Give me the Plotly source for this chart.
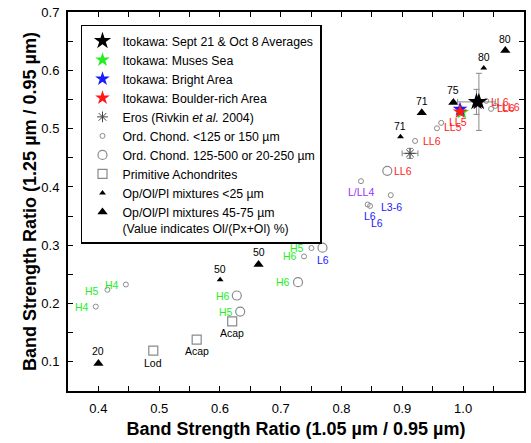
import plotly.graph_objects as go

# ---------------- data ----------------
# Itokawa averages (Sept 21 & Oct 8)
ito_x = [1.022, 1.026]
ito_y = [0.546, 0.546]
ito_ex = [0.031, 0.0]
ito_ey = [0.0215, 0.049]

muses_x, muses_y = [0.998], [0.528]
bright_x, bright_y = [0.995], [0.5334]
boulder_x, boulder_y = [0.995], [0.529]

eros_x, eros_y = [0.9127], [0.4577]
eros_ex, eros_ey = [0.013], [0.0086]

# Ordinary chondrites <125 or 150 um
oc_small_x = [1.046, 1.053, 1.038, 0.964, 0.957, 0.921, 0.832, 0.881, 0.843, 0.847, 0.7505, 0.7383, 0.4452, 0.4149, 0.3957]
oc_small_y = [0.534, 0.539, 0.5477, 0.510, 0.5007, 0.479, 0.410, 0.386, 0.370, 0.3675, 0.2952, 0.2809, 0.2327, 0.2236, 0.1948]
oc_small_lab = ["LL6", "LL6", "LL6", "LL5", "LL5", "LL6", "L/LL4", "L3-6", "L6", "L6", "H5", "H6", "H4", "H5", "H4"]

# Ordinary chondrites 125-500 or 20-250 um
oc_large_x = [0.8753, 0.7687, 0.7284, 0.6277, 0.6333]
oc_large_y = [0.4277, 0.2959, 0.2367, 0.2138, 0.1862]
oc_large_lab = ["LL6", "L6", "H6", "H6", "H5"]

# Primitive achondrites
pa_x = [0.6201, 0.5617, 0.4903]
pa_y = [0.1695, 0.138, 0.1191]
pa_lab = ["Acap", "Acap", "Lod"]

# Op/Ol/Pl mixtures <25 um
mix_small_x = [1.034, 0.897, 0.6003]
mix_small_y = [0.604, 0.4862, 0.2408]
mix_small_lab = ["80", "71", "50"]

# Op/Ol/Pl mixtures 45-75 um
mix_large_x = [1.0695, 0.984, 0.932, 0.6635, 0.400]
mix_large_y = [0.634, 0.545, 0.5275, 0.2671, 0.0972]
mix_large_lab = ["80", "75", "71", "50", "20"]

x_ticks = [0.4, 0.5, 0.6, 0.7, 0.8, 0.9, 1.0, 1.1]
y_ticks = [0.1, 0.2, 0.3, 0.4, 0.5, 0.6, 0.7]

# ---------------- styles ----------------
FONT = "Arial, Liberation Sans, Helvetica, sans-serif"
GRAY = "#8a8a8a"
RED = "#ff1a1a"
GREEN = "#22ee22"
BLUE = "#1a1aff"
PURPLE = "#9b30ff"

label_color = {"LL6": RED, "LL5": RED, "L/LL4": PURPLE, "L3-6": BLUE, "L6": BLUE,
               "H4": GREEN, "H5": GREEN, "H6": GREEN, "Acap": "black", "Lod": "black"}

# label pixel offsets (dx, dy) relative to their point (plotly yshift: + is up)
oc_small_off = [(15, 1), (16, -1), (14, -1), (17, 1), (16, 1), (17, 0), (0, -11), (1, -12),
                (2, -12), (7, -17), (-14, 0), (-14, 0), (-14, 0), (-15, -1), (-14, 0)]
oc_large_off = [(16, 0), (0, -12), (-15, 0), (-14, 0), (-14, 0)]
pa_off = [(0, -12), (0, -11), (0, -12)]
mix_small_off = [(0, 11)] * 3
mix_large_off = [(0, 12)] * 5

fig = go.Figure()

# gray open circles
fig.add_trace(go.Scatter(x=oc_small_x, y=oc_small_y, mode="markers",
                         name="Ord. Chond. <125 or 150 µm", legendrank=6,
                         marker=dict(symbol="circle-open", size=5, color=GRAY, line=dict(width=1))))
fig.add_trace(go.Scatter(x=oc_large_x, y=oc_large_y, mode="markers",
                         name="Ord. Chond. 125-500 or 20-250 µm", legendrank=7,
                         marker=dict(symbol="circle-open", size=9, color=GRAY, line=dict(width=1.2))))
fig.add_trace(go.Scatter(x=pa_x, y=pa_y, mode="markers",
                         name="Primitive Achondrites", legendrank=8,
                         marker=dict(symbol="square-open", size=9, color=GRAY, line=dict(width=1.2))))
fig.add_trace(go.Scatter(x=mix_small_x, y=mix_small_y, mode="markers",
                         name="Op/Ol/Pl mixtures <25 µm", legendrank=9,
                         marker=dict(symbol="triangle-up", size=6, color="black")))
fig.add_trace(go.Scatter(x=mix_large_x, y=mix_large_y, mode="markers",
                         name="Op/Ol/Pl mixtures 45-75 µm<br>(Value indicates Ol/(Px+Ol) %)", legendrank=10,
                         marker=dict(symbol="triangle-up", size=9, color="black")))
fig.add_trace(go.Scatter(x=eros_x, y=eros_y, mode="markers",
                         name="Eros (Rivkin <i>et al.</i> 2004)", legendrank=5,
                         error_x=dict(type="data", array=eros_ex, color=GRAY, thickness=1, width=3),
                         error_y=dict(type="data", array=eros_ey, color=GRAY, thickness=1, width=3),
                         marker=dict(symbol="asterisk-open", size=9, color="#444", line=dict(width=1, color="#444"))))
fig.add_trace(go.Scatter(x=muses_x, y=muses_y, mode="markers", name="Itokawa: Muses Sea", legendrank=2,
                         marker=dict(symbol="star", size=11, color=GREEN)))
fig.add_trace(go.Scatter(x=bright_x, y=bright_y, mode="markers", name="Itokawa: Bright Area", legendrank=3,
                         marker=dict(symbol="star", size=11, color=BLUE)))
fig.add_trace(go.Scatter(x=boulder_x, y=boulder_y, mode="markers", name="Itokawa: Boulder-rich Area", legendrank=4,
                         marker=dict(symbol="star", size=11, color=RED)))
fig.add_trace(go.Scatter(x=ito_x, y=ito_y, mode="markers", name="Itokawa: Sept 21 & Oct 8 Averages", legendrank=1,
                         error_x=dict(type="data", array=ito_ex, color=GRAY, thickness=1, width=3),
                         error_y=dict(type="data", array=ito_ey, color=GRAY, thickness=1, width=3),
                         marker=dict(symbol="star", size=13, color="black")))

# point labels
def add_labels(xs, ys, labs, offs, colored=True):
    for x, y, t, (dx, dy) in zip(xs, ys, labs, offs):
        fig.add_annotation(x=x, y=y, text=t, showarrow=False, xshift=dx, yshift=dy,
                           font=dict(family=FONT, size=10.5,
                                     color=label_color.get(t, "black") if colored else "black"))

add_labels(oc_small_x, oc_small_y, oc_small_lab, oc_small_off)
add_labels(oc_large_x, oc_large_y, oc_large_lab, oc_large_off)
add_labels(pa_x, pa_y, pa_lab, pa_off)
add_labels(mix_small_x, mix_small_y, mix_small_lab, mix_small_off, colored=False)
add_labels(mix_large_x, mix_large_y, mix_large_lab, mix_large_off, colored=False)

axis_common = dict(showline=True, linewidth=2, linecolor="black", mirror="allticks",
                   ticks="inside", ticklen=5, tickwidth=1, tickcolor="black",
                   showgrid=False, zeroline=False, tickformat=".1f",
                   tickfont=dict(family=FONT, size=13, color="black"),
                   minor=dict(dtick=0.05, ticks="inside", ticklen=5, tickwidth=1, tickcolor="black"))

fig.update_xaxes(range=[0.35, 1.1002], tickvals=x_ticks, **axis_common,
                 title=dict(text="<b>Band Strength Ratio (1.05 µm / 0.95 µm)</b>",
                            font=dict(family=FONT, size=18, color="black"), standoff=8),
                 ticklabelstandoff=4)
fig.update_yaxes(range=[0.05, 0.7002], tickvals=y_ticks, **axis_common,
                 title=dict(text="<b>Band Strength Ratio (1.25 µm / 0.95 µm)</b>",
                            font=dict(family=FONT, size=18, color="black"), standoff=0),
                 ticklabelstandoff=4)

fig.update_layout(
    width=531, height=443,
    margin=dict(l=68, r=7, t=12, b=52, autoexpand=False),
    plot_bgcolor="white", paper_bgcolor="white",
    font=dict(family=FONT, color="black"),
    showlegend=True,
    legend=dict(x=0.0285, y=0.966, xanchor="left", yanchor="top",
                bgcolor="white", bordercolor="black", borderwidth=1.5,
                font=dict(family=FONT, size=12.3, color="black"),
                itemwidth=30, valign="top", tracegroupgap=0, traceorder="normal"),
)

fig.write_html("out.html")
